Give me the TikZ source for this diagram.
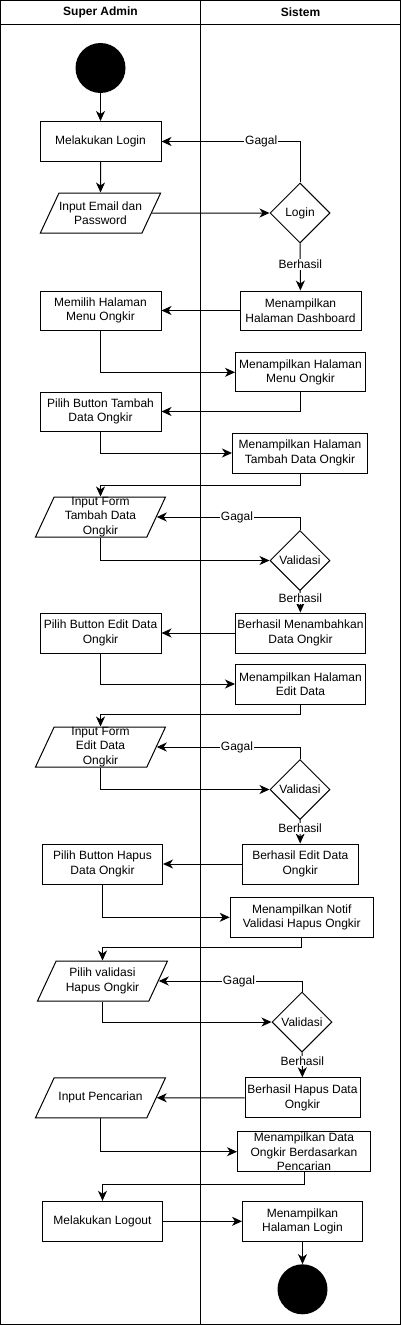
\documentclass[tikz,border=0pt]{standalone}
\usepackage{fontspec}
\setmainfont{Liberation Sans}
\usetikzlibrary{shapes.geometric, arrows.meta, positioning}

\begin{document}
\begin{tikzpicture}[
  x=1pt, y=-1pt,
  every node/.style={font=\fontsize{12}{14.5}\selectfont},
  act/.style={draw, line width=1pt, minimum width=121pt, minimum height=40pt,
              align=center, inner xsep=1pt, inner ysep=0pt},
  para/.style={trapezium, trapezium left angle=65, trapezium right angle=115,
               trapezium stretches body, draw, line width=1pt,
               minimum width=130pt, inner sep=0pt,
               execute at begin node={\begin{minipage}[c][40pt][c]{#1}\centering},
               execute at end node={\end{minipage}}},
  para/.default=92pt,
  decide/.style={diamond, draw, line width=1pt, minimum width=60pt,
                 minimum height=60pt, inner sep=0pt},
  dot/.style={circle, fill=black, minimum size=50pt, inner sep=0pt},
  arrow/.style={-{Stealth[length=10pt, width=9pt, inset=3pt]}, line width=1pt},
  guard/.style={fill=white, inner sep=1pt},
  lanehead/.style={font=\bfseries\fontsize{12}{14.5}\selectfont}
]
  \useasboundingbox (0,0) rectangle (401,1325);

  % Swimlanes
  \draw[line width=1pt] (0.5,0.5) rectangle (400.5,1324.5);
  \draw[line width=1pt] (0.5,24) -- (400.5,24);
  \draw[line width=1pt] (200.5,0.5) -- (200.5,1324.5);
  \node[lanehead] (hadmin) at (100.5,12) {Super Admin};
  \node[lanehead] (hsistem) at (300.5,12) {Sistem};

  % Nodes
  \node[dot] (start) at (100.5,68) {};
  \node[act] (mlogin) at (100.5,141.5) {Melakukan Login};
  \node[para=83pt, minimum width=120pt] (email) at (100.5,213) {Input Email dan\\Password};
  \node[decide] (login) at (300,213) {Login};
  \node[act, minimum height=39pt] (dash) at (300.5,310.5) {Menampilkan\\Halaman Dashboard};
  \node[act, minimum height=39pt] (memilih) at (100.5,310.5) {Memilih Halaman\\Menu Ongkir};
  \node[act, minimum width=130pt, minimum height=39pt] (menu) at (300.5,372.3) {Menampilkan Halaman\\Menu Ongkir};
  \node[act, minimum height=39pt] (tambah) at (100.5,411.5) {Pilih Button Tambah\\Data Ongkir};
  \node[act, minimum width=135pt] (tambahhal) at (300,453) {Menampilkan Halaman\\Tambah Data Ongkir};
  \node[para] (formtambah) at (100.5,517) {Input Form\\Tambah Data\\Ongkir};
  \node[decide] (valtambah) at (300,560.5) {Validasi};
  \node[act, minimum width=130pt] (oktambah) at (300.5,633) {Berhasil Menambahkan\\Data Ongkir};
  \node[act] (editbtn) at (100.5,633) {Pilih Button Edit Data\\Ongkir};
  \node[act, minimum width=130pt] (edithal) at (300.5,684) {Menampilkan Halaman\\Edit Data};
  \node[para] (formedit) at (100.5,747) {Input Form\\Edit Data\\Ongkir};
  \node[decide] (valedit) at (300,789.5) {Validasi};
  \node[act, minimum width=116pt] (okedit) at (300.3,864) {Berhasil Edit Data\\Ongkir};
  \node[act, minimum width=120pt] (hapusbtn) at (102.5,864) {Pilih Button Hapus\\Data Ongkir};
  \node[act, minimum width=143pt] (notif) at (301.7,917.3) {Menampilkan Notif\\Validasi Hapus Ongkir};
  \node[para] (pilihhapus) at (102.5,981) {Pilih validasi\\Hapus Ongkir};
  \node[decide] (valhapus) at (302,1022) {Validasi};
  \node[act, minimum width=115pt] (okhapus) at (302.5,1097.8) {Berhasil Hapus Data\\Ongkir};
  \node[para] (cari) at (100.5,1097.8) {Input Pencarian};
  \node[act, minimum width=133pt] (hasilcari) at (304,1151.7) {Menampilkan Data\\Ongkir Berdasarkan\\Pencarian};
  \node[act, minimum width=120pt] (logout) at (102.5,1221.3) {Melakukan Logout};
  \node[act, minimum width=120pt] (mhlogin) at (302.5,1221.3) {Menampilkan\\Halaman Login};
  \node[dot] (stop) at (302.5,1289.3) {};

  % Arrows
  \draw[arrow] (start) -- (mlogin);
  \draw[arrow] (mlogin) -- (email);
  \draw[arrow] (email) -- (login);
  \draw[arrow] (login) |- node[guard, pos=0.64] {Gagal} (mlogin);
  \draw[arrow] (login) -- node[guard, pos=0.44] {Berhasil} (dash);
  \draw[arrow] (dash) -- (memilih);
  \draw[arrow] (memilih) |- (menu);
  \draw[arrow] (menu) |- (tambah);
  \draw[arrow] (tambah) |- (tambahhal);
  \draw[arrow] (tambahhal.south) -- ++(0,12) -| (formtambah);
  \draw[arrow] (formtambah) |- (valtambah);
  \draw[arrow] (valtambah) |- node[guard, pos=0.72] {Gagal} (formtambah);
  \draw[arrow] (valtambah) -- node[guard, pos=0.35] {Berhasil} (oktambah);
  \draw[arrow] (oktambah) -- (editbtn);
  \draw[arrow] (editbtn) |- (edithal);
  \draw[arrow] (edithal.south) -- ++(0,10) -| (formedit);
  \draw[arrow] (formedit) |- (valedit);
  \draw[arrow] (valedit) |- node[guard, pos=0.72] {Gagal} (formedit);
  \draw[arrow] (valedit) -- node[guard, pos=0.35] {Berhasil} (okedit);
  \draw[arrow] (okedit) -- (hapusbtn);
  \draw[arrow] (hapusbtn) |- (notif);
  \draw[arrow] (notif.south) -- ++(0,10) -| (pilihhapus);
  \draw[arrow] (pilihhapus) |- (valhapus);
  \draw[arrow] (valhapus) |- node[guard, pos=0.72] {Gagal} (pilihhapus);
  \draw[arrow] (valhapus) -- node[guard, pos=0.35] {Berhasil} (okhapus);
  \draw[arrow] (okhapus) -- (cari);
  \draw[arrow] (cari) |- (hasilcari);
  \draw[arrow] (hasilcari.south) -- ++(0,12.5) -| (logout);
  \draw[arrow] (logout) -- (mhlogin);
  \draw[arrow] (mhlogin) -- (stop);
\end{tikzpicture}
\end{document}
